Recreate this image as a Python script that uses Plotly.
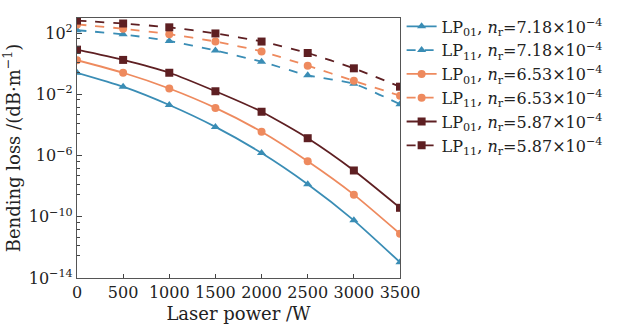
import plotly.graph_objects as go

power = [0, 500, 1000, 1500, 2000, 2500, 3000, 3500]

# log10 of bending loss (dB/m)
lp01_718 = [-0.58, -1.49, -2.69, -4.12, -5.83, -7.87, -10.23, -12.97]
lp11_718 = [2.20, 1.93, 1.50, 0.87, 0.14, -0.75, -1.30, -2.64]
lp01_653 = [0.24, -0.58, -1.61, -2.88, -4.44, -6.37, -8.55, -11.11]
lp11_653 = [2.58, 2.30, 1.94, 1.46, 0.81, -0.12, -1.11, -2.08]
lp01_587 = [0.93, 0.26, -0.58, -1.79, -3.13, -4.86, -6.97, -9.41]
lp11_587 = [2.83, 2.64, 2.39, 1.99, 1.46, 0.71, -0.29, -1.49]

names = [
    "LP<sub>01</sub>, <i>n</i><sub>r</sub>=7.18×10<sup>−4</sup>",
    "LP<sub>11</sub>, <i>n</i><sub>r</sub>=7.18×10<sup>−4</sup>",
    "LP<sub>01</sub>, <i>n</i><sub>r</sub>=6.53×10<sup>−4</sup>",
    "LP<sub>11</sub>, <i>n</i><sub>r</sub>=6.53×10<sup>−4</sup>",
    "LP<sub>01</sub>, <i>n</i><sub>r</sub>=5.87×10<sup>−4</sup>",
    "LP<sub>11</sub>, <i>n</i><sub>r</sub>=5.87×10<sup>−4</sup>",
]
series = [lp01_718, lp11_718, lp01_653, lp11_653, lp01_587, lp11_587]
colors = ["#3a8db5", "#3a8db5", "#ee8a5e", "#ee8a5e", "#5e1f22", "#5e1f22"]
symbols = ["triangle-up", "triangle-up", "circle", "circle", "square", "square"]
dashes = ["solid", "dash", "solid", "dash", "solid", "dash"]

y_tick_exp = [-14, -10, -6, -2, 2]
minor_offsets = [0.36, 0.84, 1.32, 1.89, 2.56]

FONT = "DejaVu Serif"

fig = go.Figure()
for name, s, c, sym, d in zip(names, series, colors, symbols, dashes):
    fig.add_trace(go.Scatter(
        x=power, y=[10 ** v for v in s], name=name, mode="lines+markers",
        line=dict(color=c, width=1.8, dash=d, shape="spline", smoothing=0.6),
        marker=dict(symbol=sym, size=8, color=c),
    ))

minor_vals = []
for e in y_tick_exp:
    for o in minor_offsets:
        v = e - o
        if -14 < v < 3:
            minor_vals.append(10 ** v)

fig.update_layout(
    width=617, height=324,
    margin=dict(l=77, r=216, t=9, b=46),
    paper_bgcolor="white", plot_bgcolor="white",
    font=dict(family=FONT, size=16, color="#222"),
    showlegend=True,
    legend=dict(x=1.005, y=1.033, xanchor="left", yanchor="top",
                font=dict(family=FONT, size=16, color="#222"),
                bgcolor="rgba(0,0,0,0)", itemwidth=30, tracegroupgap=0),
    xaxis=dict(
        range=[0, 3500], tickmode="array", tickvals=power,
        ticks="inside", ticklen=4, tickcolor="#444",
        showline=True, linecolor="#555", linewidth=1.2, mirror=True,
        showgrid=False, zeroline=False, automargin=False,
        title=dict(text="Laser power /W", font=dict(size=18)),
        tickfont=dict(size=16),
    ),
    yaxis=dict(
        type="log", range=[-14, 3],
        tickmode="array", tickvals=[10 ** e for e in y_tick_exp],
        ticktext=["10<sup>%s</sup>" % (str(e).replace("-", "−")) for e in y_tick_exp],
        ticks="inside", ticklen=5, tickcolor="#444",
        minor=dict(tickmode="array", tickvals=minor_vals, ticks="inside", ticklen=3, tickcolor="#444"),
        showline=True, linecolor="#555", linewidth=1.2, mirror=True,
        showgrid=False, zeroline=False, automargin=False,
        title=dict(text="Bending loss /(dB·m<sup>−1</sup>)", font=dict(size=18)),
        tickfont=dict(size=16),
    ),
)

fig.write_html("out.html", config={"displayModeBar": False},
               post_script="document.body.style.margin='0';document.body.style.overflow='hidden';")
